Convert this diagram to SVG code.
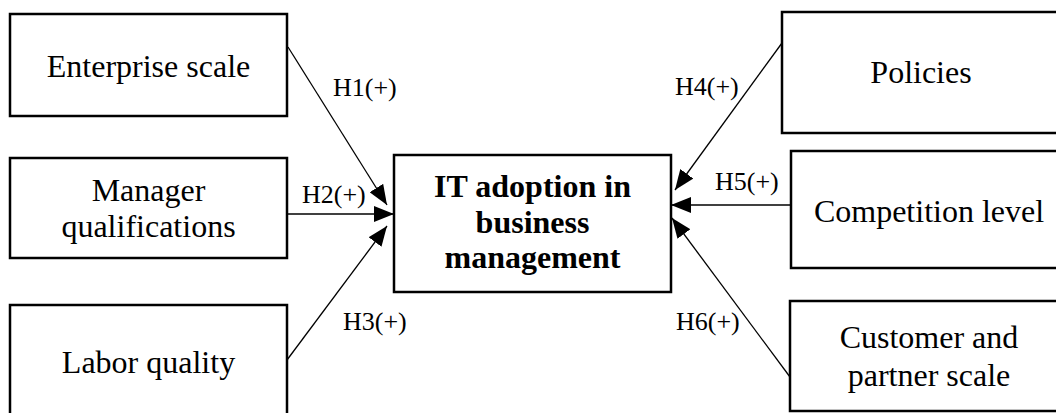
<svg xmlns="http://www.w3.org/2000/svg" width="1056" height="413" viewBox="0 0 1056 413">
<style>
.box{fill:#fff;stroke:#000;stroke-width:2.5}
.t{font-family:"Liberation Serif","Times New Roman",serif;font-size:32px;fill:#000;text-anchor:middle}
.b{font-weight:bold}
.lbl{font-family:"Liberation Serif","Times New Roman",serif;font-size:26px;fill:#000}
.ln{stroke:#000;stroke-width:1.3;fill:none;marker-end:url(#ah)}
</style>
<defs>
<marker id="ah" markerUnits="userSpaceOnUse" markerWidth="22" markerHeight="16" refX="20" refY="8" orient="auto">
<path d="M0,0 L20,8 L0,16 Z" fill="#000"/>
</marker>
</defs>
<rect width="1056" height="413" fill="#fff"/>
<g id="connectors">
<line class="ln" x1="288" y1="47" x2="387" y2="205"/>
<line class="ln" x1="287" y1="214" x2="394" y2="214"/>
<line class="ln" x1="287" y1="360" x2="387" y2="226"/>
<line class="ln" x1="782" y1="43" x2="675" y2="190"/>
<line class="ln" x1="791" y1="205" x2="671" y2="205"/>
<line class="ln" x1="790" y1="377" x2="672" y2="218"/>
</g>
<g id="labels">
<text class="lbl" x="333" y="96">H1(+)</text>
<text class="lbl" x="302" y="203">H2(+)</text>
<text class="lbl" x="343" y="330">H3(+)</text>
<text class="lbl" x="675" y="95">H4(+)</text>
<text class="lbl" x="715" y="190">H5(+)</text>
<text class="lbl" x="676" y="330">H6(+)</text>
</g>
<g id="enterprise">
<rect class="box" x="10" y="14" width="277" height="102"/>
<text class="t" x="148.5" y="77">Enterprise scale</text>
</g>
<g id="manager">
<rect class="box" x="10" y="158" width="277" height="100"/>
<text class="t" x="148.5" y="201">Manager</text>
<text class="t" x="148.5" y="237">qualifications</text>
</g>
<g id="labor">
<rect class="box" x="10" y="305" width="277" height="115"/>
<text class="t" x="148.5" y="373">Labor quality</text>
</g>
<g id="center">
<rect class="box" x="394" y="155" width="277" height="137"/>
<text class="t b" x="532.5" y="197">IT adoption in</text>
<text class="t b" x="532.5" y="233">business</text>
<text class="t b" x="532.5" y="268">management</text>
</g>
<g id="policies">
<rect class="box" x="782" y="12" width="280" height="121"/>
<text class="t" x="921" y="83">Policies</text>
</g>
<g id="competition">
<rect class="box" x="791" y="151" width="276" height="117"/>
<text class="t" x="929" y="222">Competition level</text>
</g>
<g id="customer">
<rect class="box" x="790" y="301" width="278" height="110"/>
<text class="t" x="929" y="348">Customer and</text>
<text class="t" x="929" y="386">partner scale</text>
</g>
</svg>
